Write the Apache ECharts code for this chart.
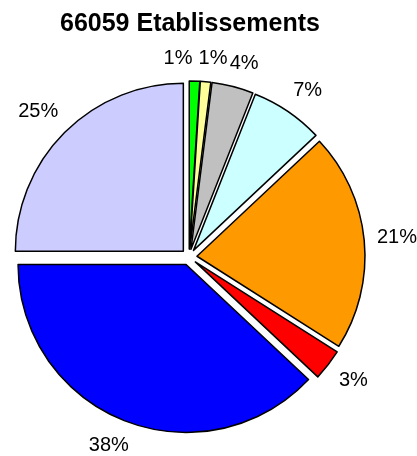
<!DOCTYPE html>
<html>
<head>
<meta charset="utf-8">
<script src="https://cdn.jsdelivr.net/npm/echarts@6/dist/echarts.min.js"></script>
<style>html,body{margin:0;padding:0;background:#fff;}#c{width:417px;height:456px;}</style>
</head>
<body>
<div id="c"></div>
<script>
const titleText = '66059 Etablissements';
const categories = ['Catégorie 1', 'Catégorie 2', 'Catégorie 3', 'Catégorie 4', 'Catégorie 5', 'Catégorie 6', 'Catégorie 7', 'Catégorie 8'];
const percents = [1, 1, 4, 7, 21, 3, 38, 25];
const colors = ['#00ff00', '#ffff99', '#c0c0c0', '#ccffff', '#ff9900', '#ff0000', '#0000ff', '#ccccff'];

const font = "'Liberation Sans', Arial, sans-serif";
const CX = 189, CY = 257, R = 168;
const LABEL_GAP = 188;

const chart = echarts.init(document.getElementById('c'), null, {renderer: 'canvas'});
chart.setOption({
  animation: false,
  backgroundColor: '#ffffff',
  title: {
    text: titleText,
    left: 60,
    top: 12,
    padding: 0,
    textStyle: {fontFamily: font, fontSize: 25, fontWeight: 'bold', color: '#000'}
  },
  series: [{
    type: 'pie',
    center: [CX, CY],
    radius: R,
    startAngle: 90,
    clockwise: true,
    selectedMode: 'multiple',
    selectedOffset: 8,
    emphasis: {disabled: true},
    itemStyle: {borderColor: '#000', borderWidth: 1.5},
    label: {show: false},
    labelLine: {show: false},
    data: categories.map(function (name, i) {
      return {name: name, value: percents[i], selected: true, itemStyle: {color: colors[i]}};
    })
  }, {
    type: 'pie',
    center: [CX, CY],
    radius: R,
    startAngle: 90,
    clockwise: true,
    silent: true,
    avoidLabelOverlap: false,
    selectedMode: false,
    emphasis: {disabled: true},
    itemStyle: {color: 'rgba(0,0,0,0)', borderWidth: 0},
    label: {
      show: true,
      position: 'outside',
      fontFamily: font,
      fontSize: 20,
      color: '#000',
      formatter: function (p) { return Math.round(p.value) + '%'; }
    },
    labelLine: {show: false, length: 20, length2: 0},
    labelLayout: function (p) {
      const r = p.labelRect;
      const ax = p.align === 'right' ? r.x + r.width : (p.align === 'left' ? r.x : r.x + r.width / 2);
      const ay = r.y + r.height / 2;
      let dx = ax - CX, dy = ay - CY;
      const d = Math.sqrt(dx * dx + dy * dy) || 1;
      dx /= d; dy /= d;
      const support = (r.width / 2) * Math.abs(dx) + (r.height / 2) * Math.abs(dy);
      const dist = LABEL_GAP + support;
      const x = CX + dx * dist, y = CY + dy * dist;
      if (p.dataIndex === 0) {
        return {x: x - 8, y: y, align: 'right', verticalAlign: 'middle'};
      }
      return {x: x, y: y, align: 'center', verticalAlign: 'middle'};
    },
    data: categories.map(function (name, i) {
      return {name: name, value: percents[i]};
    })
  }]
});
</script>
</body>
</html>
